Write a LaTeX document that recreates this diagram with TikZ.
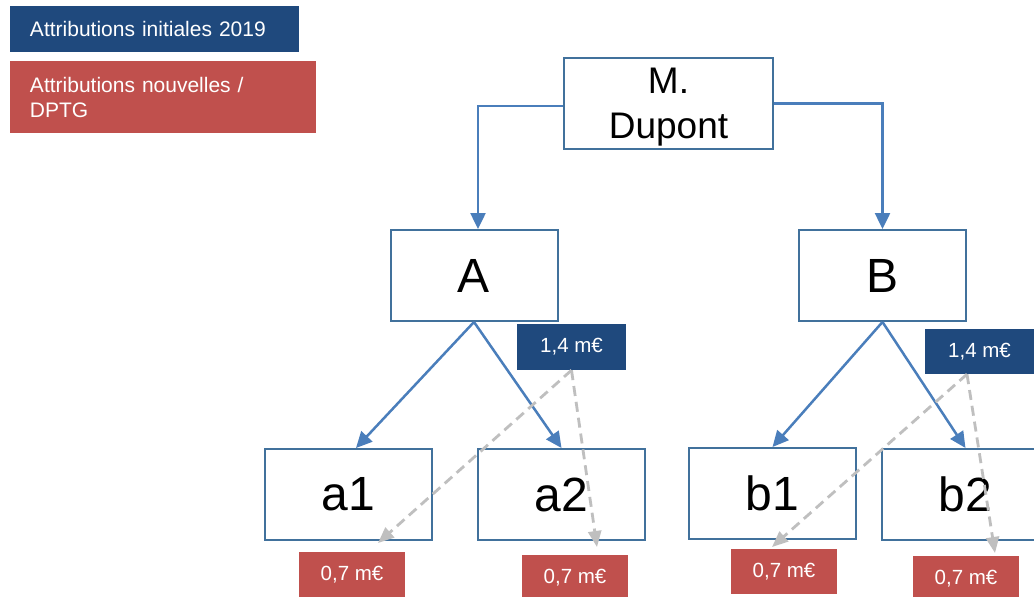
\documentclass[tikz,border=0pt]{standalone}
\usepackage{fontspec}
\setmainfont{Liberation Sans}
\usetikzlibrary{arrows.meta}
\definecolor{legblue}{HTML}{1F497D}
\definecolor{legred}{HTML}{C0504D}
\definecolor{boxline}{HTML}{41719C}
\definecolor{connblue}{HTML}{4A7EBB}
\definecolor{dashgray}{HTML}{BFBFBF}
\begin{document}
\begin{tikzpicture}[x=1pt,y=-1pt,
  orgbox/.style={draw=boxline, line width=2pt, fill=white, minimum width=167pt,
    minimum height=91pt, inner sep=0pt, font=\fontsize{48}{48}\selectfont},
  legbox/.style={text=white, align=left, inner xsep=20pt, inner ysep=0pt,
    font=\fontsize{21}{25}\selectfont},
  tagblue/.style={fill=legblue, text=white, minimum width=109pt, minimum height=46pt,
    inner sep=0pt, font=\fontsize{20.5}{24}\selectfont},
  tagred/.style={fill=legred, text=white, minimum width=106pt, minimum height=46pt,
    inner sep=0pt, font=\fontsize{20.5}{24}\selectfont},
  conn/.style={draw=connblue, line width=2.5pt, -{Triangle[length=16pt,width=15pt]}},
  gdash/.style={draw=dashgray, line width=2.8pt, dash pattern=on 10pt off 6pt,
    -{Triangle[length=16pt,width=13pt]}}]
\useasboundingbox (0,0) rectangle (1034,597);
\fill[white] (0,0) rectangle (1034,597);

% legend
\node[legbox, fill=legblue, text width=249pt, minimum height=46pt] (leg1) at (154.5,29) {Attributions initiales 2019};
\node[legbox, fill=legred, text width=266pt, minimum height=72pt] (leg2) at (163,97) {Attributions nouvelles /\\DPTG};

% org chart boxes
\node[orgbox, minimum width=209pt, align=center, font=\fontsize{37}{45}\selectfont, text depth=0pt] (dupont) at (668.5,103.5) {M.\\Dupont};
\node[orgbox] (A) at (474,275.5) {A};
\node[orgbox] (B) at (882.5,275.5) {B};
\node[orgbox] (a1) at (348.5,494.5) {a1};
\node[orgbox] (a2) at (561.5,494.5) {a2};
\node[orgbox] (b1) at (772.5,493.5) {b1};
\node[orgbox] (b2) at (965.5,494.5) {b2};

% amount tags
\node[tagblue] (tA) at (571.5,347) {1,4 m€};
\node[tagblue, minimum height=45pt] (tB) at (979.5,351.5) {1,4 m€};
\node[tagred] (ra1) at (352,575) {0,7 m€};
\node[tagred] (ra2) at (575,578) {0,7 m€};
\node[tagred, minimum height=45pt] (rb1) at (784,571.5) {0,7 m€};
\node[tagred] (rb2) at (966,579) {0,7 m€};

% dashed targets
\coordinate (ga1) at (378,543);
\coordinate (ga2) at (597,547);
\coordinate (gb1) at (772,547);
\coordinate (gb2) at (995,553);

% connectors
\draw[conn] ([yshift=-2.5pt]dupont.west) -| ([xshift=4pt]A.north);
\draw[conn] (dupont.east) -| (B.north);
\draw[conn] (A.south) -- ([xshift=7.5pt]a1.north);
\draw[conn] (A.south) -- (a2.north);
\draw[conn] (B.south) -- (b1.north);
\draw[conn] (B.south) -- (b2.north);

\draw[gdash] (tA.south) -- (ga1);
\draw[gdash] (tA.south) -- (ga2);
\draw[gdash] ([xshift=-12.5pt]tB.south) -- (gb1);
\draw[gdash] ([xshift=-12.5pt]tB.south) -- (gb2);
\end{tikzpicture}
\end{document}
